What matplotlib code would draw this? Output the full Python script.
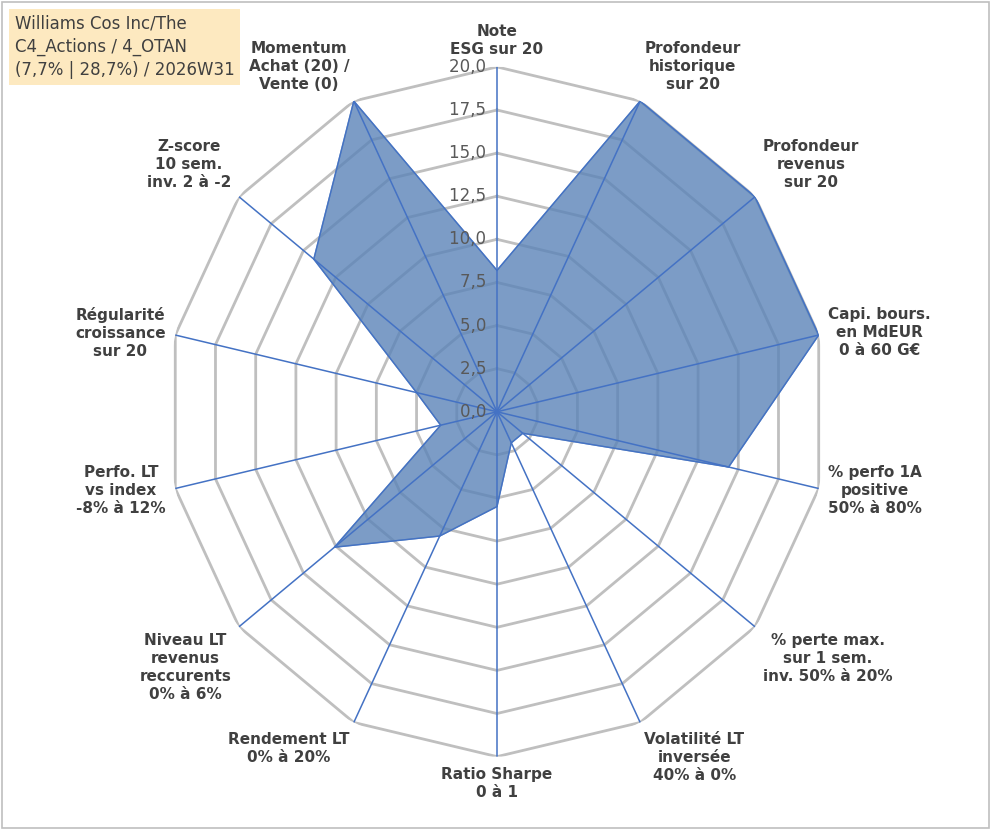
import numpy as np
import matplotlib.pyplot as plt

labels = ["Note\nESG sur 20", "Profondeur\nhistorique\nsur 20", "Profondeur\nrevenus\nsur 20",
          "Capi. bours.\nen MdEUR\n0 à 60 G€", "% perfo 1A\npositive\n50% à 80%",
          "% perte max.\nsur 1 sem.\ninv. 50% à 20%", "Volatilité LT\ninversée\n40% à 0%",
          "Ratio Sharpe\n0 à 1", "Rendement LT\n0% à 20%", "Niveau LT\nrevenus\nreccurents\n0% à 6%",
          "Perfo. LT\nvs index\n-8% à 12%", "Régularité\ncroissance\nsur 20",
          "Z-score\n10 sem.\ninv. 2 à -2", "Momentum\nAchat (20) /\nVente (0)"]
values = [8.2, 20, 20, 20, 14.4, 2.0, 2.0, 5.5, 8.0, 12.6, 3.5, 5.0, 14.2, 20]
ticks = [0, 2.5, 5, 7.5, 10, 12.5, 15, 17.5, 20]
title = "Williams Cos Inc/The\nC4_Actions / 4_OTAN\n(7,7% | 28,7%) / 2026W31"

n = len(labels)
ang = np.arange(n) * 2 * np.pi / n
angc = np.append(ang, ang[0])

fig = plt.figure(figsize=(9.91, 8.3), dpi=100)
ax = fig.add_axes([0.1685, 0.0884, 0.666, 0.831], projection="polar")
ax.set_aspect("auto")
ax.set_theta_zero_location("N")
ax.set_theta_direction(-1)
ax.set_ylim(0, 20)
ax.grid(False)
ax.spines["polar"].set_visible(False)
ax.set_xticks([])
ax.set_yticks([])

for t in ticks[1:]:
    ax.plot(angc, [t] * (n + 1), color="#bfbfbf", lw=2.0, zorder=1)
for a in ang:
    ax.plot([a, a], [0, 20], color="#4472c4", lw=1.1, zorder=3)

v = np.append(values, values[0])
ax.fill(angc, v, color="#5b84b8", alpha=0.8, zorder=2)
ax.plot(angc, v, color="#4472c4", lw=1, zorder=2)

for t in ticks:
    ax.text(0, t, f"{t:.1f}".replace(".", ",") + "  ", ha="right", va="center",
            fontsize=12, color="#595959")

for a, lab in zip(ang, labels):
    s, c = np.sin(a), np.cos(a)
    ha = "center" if abs(s) < 0.2 else ("left" if s > 0 else "right")
    va = "bottom" if c > 0.5 else ("top" if c < -0.5 else "center")
    ax.text(a, 20.6, lab, ha=ha, va=va, fontsize=11, fontweight="bold", color="#404040",
            linespacing=1.25, multialignment="center")

fig.text(0.015, 0.982, title, ha="left", va="top", fontsize=12, color="#404040",
         linespacing=1.35,
         bbox=dict(boxstyle="square,pad=0.35", fc="#fde9c0", ec="none"))
fig.patches.append(plt.Rectangle((0.002, 0.002), 0.996, 0.996, transform=fig.transFigure,
                                 fill=False, ec="#bfbfbf", lw=1.2))
fig.savefig("out.png", dpi=100)
